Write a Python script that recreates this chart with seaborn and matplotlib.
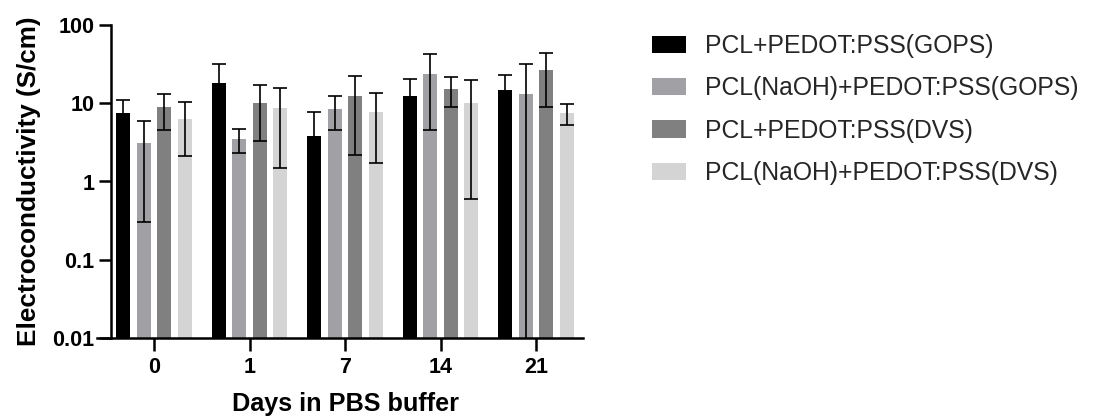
import numpy as np
import pandas as pd
import matplotlib
matplotlib.use("Agg")
import matplotlib.pyplot as plt
import seaborn as sns
from matplotlib.ticker import FixedLocator, FixedFormatter, NullLocator

# Conductivity of the coated scaffolds over immersion time (mean and SD)
days = ["0", "1", "7", "14", "21"]
series = [
    "PCL+PEDOT:PSS(GOPS)",
    "PCL(NaOH)+PEDOT:PSS(GOPS)",
    "PCL+PEDOT:PSS(DVS)",
    "PCL(NaOH)+PEDOT:PSS(DVS)",
]
mean_gops = [7.5, 18.1, 3.8, 12.4, 14.8]
mean_naoh_gops = [3.1, 3.5, 8.4, 23.6, 13.1]
mean_dvs = [8.9, 10.1, 12.4, 15.2, 26.6]
mean_naoh_dvs = [6.3, 8.6, 7.7, 10.1, 7.5]
sd_gops = [3.4, 13.6, 4.0, 8.0, 8.4]
sd_naoh_gops = [2.8, 1.2, 3.9, 19.0, 19.0]
sd_dvs = [4.4, 6.8, 10.2, 6.3, 17.6]
sd_naoh_dvs = [4.2, 7.1, 6.0, 9.5, 2.2]
colors = ["#000000", "#A1A1A5", "#808080", "#D4D4D4"]

means = [mean_gops, mean_naoh_gops, mean_dvs, mean_naoh_dvs]
sds = [sd_gops, sd_naoh_gops, sd_dvs, sd_naoh_dvs]

df = pd.DataFrame(
    [(d, s, m, e)
     for s, mv, sv in zip(series, means, sds)
     for d, m, e in zip(days, mv, sv)],
    columns=["day", "group", "value", "sd"],
)

sns.set_theme(style="ticks")
plt.rcParams["font.family"] = ["Liberation Sans", "DejaVu Sans"]

W, H = 1102, 419
fig = plt.figure(figsize=(W / 100, H / 100), dpi=100)
ax = fig.add_axes([97 / W, 81 / H, 486 / W, 313 / H])

sns.barplot(
    data=df, x="day", y="value", hue="group",
    order=days, hue_order=series, palette=colors,
    saturation=1, width=0.86, gap=0.32, errorbar=None,
    linewidth=0, ax=ax, legend=True,
)
ax.set_yscale("log")

# Error bars placed on the drawn bars
ymin = 0.01
for container, s in zip(ax.containers, series):
    sub = df[df["group"] == s].set_index("day").loc[days]
    xs = [p.get_x() + p.get_width() / 2 for p in container.patches]
    ys = [p.get_height() for p in container.patches]
    lower = [y - ymin * 0.5 if y - e <= 0 else e
             for y, e in zip(ys, sub["sd"].values)]
    ax.errorbar(xs, ys, yerr=[lower, sub["sd"].values], fmt="none",
                ecolor="black", elinewidth=1.2, capsize=5, capthick=1.2,
                zorder=3)

ax.set_ylim(ymin, 100)
ax.set_xlim(-(154 - 97) / 95.5, (583 - 154) / 95.5)
ticks = [0.01, 0.1, 1, 10, 100]
ax.yaxis.set_major_locator(FixedLocator(ticks))
ax.yaxis.set_major_formatter(FixedFormatter(["0.01", "0.1", "1", "10", "100"]))
ax.yaxis.set_minor_locator(NullLocator())

for side in ("top", "right"):
    ax.spines[side].set_visible(False)
for side in ("left", "bottom"):
    ax.spines[side].set_linewidth(1.8)
    ax.spines[side].set_color("black")
ax.spines["left"].set_position(("axes", 14 / 486))

ax.tick_params(axis="both", which="major", length=9, width=1.8,
               color="black", labelsize=15.5, labelcolor="black")
ax.tick_params(axis="y", pad=3)
ax.tick_params(axis="x", pad=5)
for lab in ax.get_xticklabels() + ax.get_yticklabels():
    lab.set_fontweight("bold")

ax.set_xlabel("Days in PBS buffer", fontsize=18.2, fontweight="bold",
              color="black", labelpad=10)
ax.xaxis.label.set_x((346 - 97) / 486)
ax.set_ylabel("Electroconductivity (S/cm)", fontsize=18.8, fontweight="bold",
              color="black", labelpad=8)

handles, labels = ax.get_legend_handles_labels()
ax.get_legend().remove()
fig.legend(handles, labels, loc="upper left",
           bbox_to_anchor=(652 / W, 1 - 34 / H), bbox_transform=fig.transFigure,
           frameon=False, fontsize=17.8, handlelength=1.38, handleheight=0.69,
           handletextpad=0.78, labelspacing=0.74, borderpad=0, borderaxespad=0)

fig.savefig("out.png", dpi=100)
